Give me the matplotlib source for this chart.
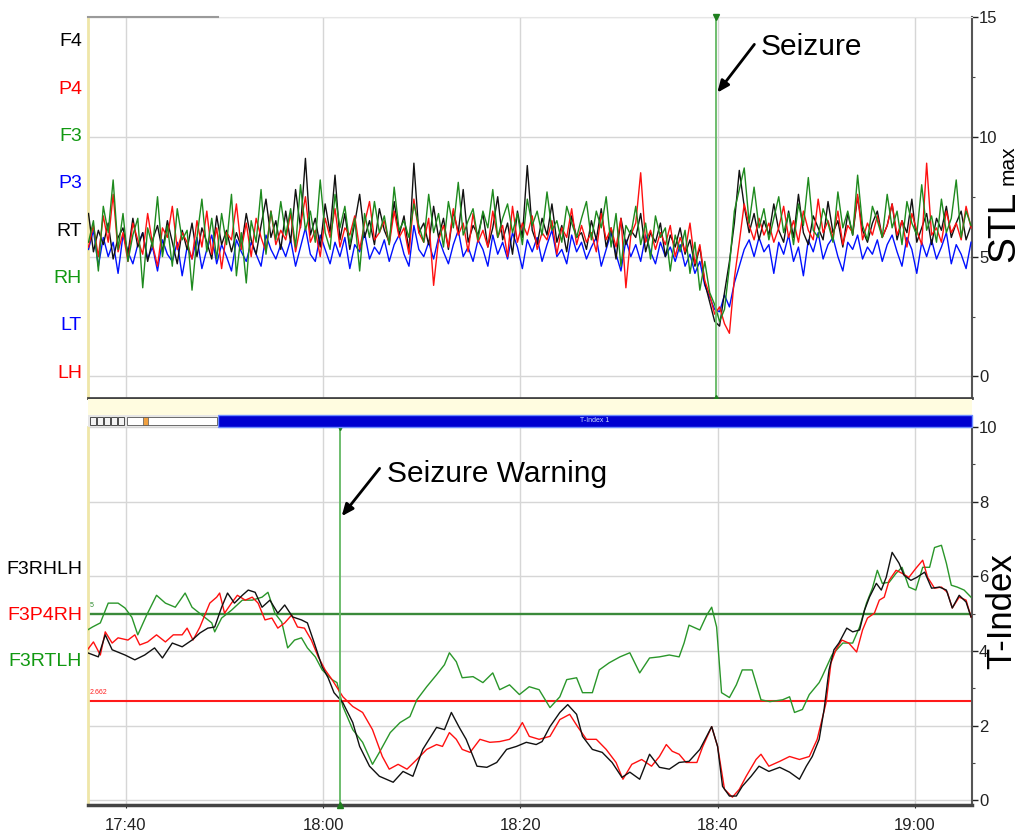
import numpy as np
import matplotlib
matplotlib.use('Agg')
import matplotlib.pyplot as plt
from matplotlib import font_manager
from matplotlib.patches import Rectangle
from matplotlib.ticker import MultipleLocator

# ---------------- DATA ----------------
# Time axis: minutes after 17:00
time_ticks = [40, 60, 80, 100, 120]
time_labels = ['17:40', '18:00', '18:20', '18:40', '19:00']
top_tick_labels = ['3d 17:40', '3d 18:00', '3d 18:20', '3d 18:40', '3d 19:00']
x_range = [36.15, 125.8]

# STLmax profiles, sampled every 0.5 min starting 17:36.2
stl_start = 36.2
stl_step = 0.5
stl_black = [6.8, 5.2, 6.1, 5.5, 6.4, 4.9, 5.8, 6.2, 5.1, 6.6, 5.4, 6.0, 4.8, 5.7, 6.3, 5.2, 6.5, 5.6, 4.7, 6.1,
             5.3, 6.4, 5.0, 6.2, 5.6, 4.9, 6.7, 5.5, 6.1, 5.2, 6.0, 5.4, 6.8, 5.7, 5.1, 6.3, 7.4, 5.8, 6.5, 5.3,
             6.9, 5.6, 7.8, 6.2, 9.1, 5.9, 6.6, 5.4, 7.2, 6.0, 8.4, 5.7, 6.8, 5.3, 6.4, 7.6, 5.8, 6.5, 5.5, 7.0,
             6.1, 5.6, 7.3, 5.9, 6.7, 5.2, 8.9, 6.0, 6.4, 5.5, 7.1, 5.8, 6.6, 5.3, 6.9, 6.0, 7.8, 5.6, 6.3, 5.9,
             6.8, 5.4, 6.2, 7.5, 5.7, 6.4, 5.1, 6.9, 5.8, 8.8, 6.1, 5.5, 6.6, 5.9, 7.2, 5.6, 6.3, 5.2, 6.7, 5.8,
             6.0, 5.3, 6.5, 5.7, 7.0, 5.4, 6.2, 4.9, 6.6, 5.5, 6.1, 5.8, 6.8, 5.2, 6.0, 5.6, 6.4, 5.0, 5.9, 5.4,
             6.2, 5.1, 5.7, 4.6, 5.4, 3.9, 3.1, 2.3, 2.1, 3.5, 4.8, 6.4, 8.6, 7.1, 6.0, 6.8, 5.7, 6.5, 5.9, 7.2,
             6.1, 5.6, 6.9, 5.8, 7.6, 6.0, 5.5, 6.7, 6.2, 5.7, 7.3, 6.0, 6.5, 5.4, 6.8, 5.9, 7.5, 6.1, 5.6, 6.4,
             6.9, 5.8, 6.3, 7.2, 5.7, 6.5, 6.0, 7.4, 5.6, 6.2, 6.8, 5.5, 6.6, 6.1, 7.1, 5.8, 6.4, 6.9, 5.7, 6.3]
stl_red = [5.4, 6.3, 5.0, 6.7, 5.6, 7.6, 5.2, 6.0, 4.8, 6.4, 5.7, 5.1, 6.8, 5.5, 4.6, 6.2, 5.8, 7.1, 5.3, 6.0,
           5.6, 4.9, 6.5, 5.4, 6.9, 5.1, 6.2, 4.5, 6.0, 5.7, 7.2, 5.3, 6.4, 5.0, 6.6, 5.8, 5.2, 6.9, 5.5, 6.1,
           5.7, 6.8, 5.2, 6.3, 7.5, 5.6, 6.1, 5.0, 6.6, 5.8, 7.0, 5.4, 6.2, 5.9, 6.7, 5.3, 6.4, 7.3, 5.7, 6.0,
           6.5, 5.5, 6.9, 5.8, 6.2, 5.1, 7.4, 6.0, 5.6, 6.6, 3.8, 5.7, 6.3, 5.4, 7.0, 5.9, 6.4, 5.2, 6.8, 5.6,
           6.1, 5.4, 6.9, 5.8, 6.3, 5.0, 7.1, 5.6, 6.4, 5.9, 6.7, 5.3, 6.0, 5.7, 6.5, 5.1, 6.2, 5.8, 7.0, 5.5,
           6.3, 5.6, 6.0, 5.2, 6.8, 5.7, 6.2, 5.4, 6.6, 3.7, 5.9, 6.4, 8.5, 5.6, 6.1, 5.3, 6.0, 5.5, 6.3, 5.0,
           5.8, 5.2, 6.4, 4.7, 5.5, 4.0, 3.4, 2.6, 2.9, 2.2, 1.8, 4.1, 5.6, 7.2, 6.3, 5.7, 6.6, 5.9, 6.4, 5.6,
           6.2, 7.1, 5.8, 6.5, 5.6, 6.9, 6.1, 5.7, 7.4, 6.0, 6.5, 5.8, 6.9, 5.5, 6.3, 6.0, 7.6, 5.7, 6.4, 5.9,
           6.7, 5.8, 6.3, 7.2, 5.9, 6.5, 5.4, 6.8, 6.1, 5.5, 8.9, 5.9, 6.2, 5.6, 6.9, 6.0, 6.4, 5.7, 7.1, 6.2]
stl_green = [5.6, 6.5, 4.4, 7.1, 6.0, 8.2, 5.3, 6.8, 4.8, 5.9, 6.6, 3.7, 6.2, 5.4, 7.5, 5.0, 6.3, 4.6, 7.0, 5.7,
             6.1, 3.6, 5.8, 7.4, 5.2, 6.6, 4.9, 6.8, 5.5, 7.6, 4.2, 6.0, 3.9, 6.5, 5.6, 7.8, 5.1, 6.9, 5.7, 7.3,
             5.9, 7.0, 5.4, 8.0, 6.1, 6.9, 5.6, 8.2, 6.0, 5.3, 7.6, 6.2, 7.1, 5.5, 6.6, 4.4, 6.8, 5.8, 7.3, 6.0,
             6.7, 5.5, 7.9, 6.1, 6.5, 5.8, 7.2, 6.3, 5.6, 7.6, 6.0, 6.8, 5.4, 7.3, 6.2, 8.1, 5.9, 6.5, 7.0, 5.7,
             6.9, 6.2, 7.8, 5.8, 6.6, 7.2, 6.0, 6.8, 5.5, 7.4, 6.3, 6.9, 5.9, 7.7, 6.1, 6.5, 5.6, 7.1, 6.4, 5.8,
             6.6, 7.3, 5.7, 6.9, 6.2, 7.5, 5.4, 6.8, 4.6, 6.3, 5.9, 7.1, 5.5, 6.4, 4.9, 6.7, 5.8, 6.2, 4.4, 5.9,
             5.2, 6.1, 4.3, 5.6, 3.6, 4.8, 3.5, 3.0, 2.3, 2.8, 4.6, 6.9, 7.8, 8.7, 6.4, 7.9, 6.2, 7.0, 5.7, 6.6,
             7.5, 6.0, 6.8, 5.5, 7.2, 6.3, 8.3, 6.1, 5.8, 7.0, 6.4, 5.6, 7.7, 6.2, 6.9, 5.9, 8.4, 6.3, 5.7, 7.1,
             6.5, 5.8, 7.6, 6.2, 6.9, 5.5, 7.3, 6.4, 5.9, 8.0, 6.1, 6.7, 5.6, 7.4, 6.0, 6.6, 8.2, 5.8, 6.9, 6.3]
stl_blue = [5.3, 6.1, 4.6, 5.8, 5.0, 5.6, 4.3, 5.9, 5.2, 4.7, 5.5, 6.0, 4.9, 5.4, 4.4, 5.7, 5.1, 4.8, 5.6, 4.2,
            5.4, 4.9, 5.8, 4.5, 5.3, 5.9, 4.7, 5.5, 5.0, 4.4, 5.7, 5.2, 4.8, 5.6, 5.1, 4.6, 5.9, 5.3, 4.9, 5.5,
            5.0, 5.7, 4.6, 5.4, 6.2, 5.1, 4.8, 5.9, 5.3, 4.7, 5.6, 5.0, 5.8, 4.5, 5.5, 5.2, 6.0, 4.9, 5.4, 5.1,
            5.7, 4.8, 5.5, 5.9, 5.1, 4.6, 6.3, 5.3, 5.0, 5.6, 4.9, 5.8, 5.2, 4.7, 5.5, 6.1, 5.0, 5.4, 4.8, 5.7,
            5.3, 4.6, 5.9, 5.1, 5.6, 4.9, 6.0, 5.4, 4.5, 5.7, 5.2, 5.8, 4.8, 5.5, 6.1, 5.0, 5.3, 4.7, 5.9, 5.2,
            5.6, 4.9, 5.4, 5.8, 4.6, 5.3, 6.0, 5.1, 4.4, 5.7, 5.0, 5.5, 4.8, 5.9, 5.2, 4.7, 5.6, 5.0, 5.4, 4.8,
            5.5, 4.6, 5.1, 4.3, 4.8, 3.8, 3.3, 2.8, 2.7, 3.4, 2.9, 3.9, 4.6, 5.3, 5.7, 5.0, 5.8, 5.2, 5.5, 4.3,
            5.6, 5.1, 5.9, 4.8, 5.4, 4.2, 5.7, 5.2, 6.0, 4.9, 5.5, 5.8, 5.0, 4.4, 5.6, 5.3, 5.9, 4.9, 5.4, 5.1,
            5.7, 4.8, 5.5, 5.9, 5.2, 4.6, 5.8, 5.3, 4.3, 5.6, 5.0, 5.7, 4.9, 5.4, 6.0, 4.7, 5.5, 5.1, 4.5, 5.6]
stl_labels = ['F4', 'P4', 'F3', 'P3', 'RT', 'RH', 'LT', 'LH']
stl_label_colors = ['black', 'red', '#119911', 'blue', 'black', '#119911', 'blue', 'red']

# T-index profiles (time in minutes after 17:00, value)
tidx_green_t = [36.1, 36.6, 37.4, 38.2, 39.2, 39.9, 40.6, 41.2, 42.1, 43.1, 44.0, 45.0, 46.0, 46.7, 47.7, 48.7,
                49.0, 49.7, 50.7, 51.8, 52.8, 53.8, 54.4, 55.1, 55.8, 56.4, 57.1, 57.8, 58.4, 59.2, 59.9, 60.9,
                61.4, 62.0, 63.0, 64.0, 65.0, 65.7, 66.8, 67.8, 68.8, 69.5, 70.5, 71.5, 72.3, 72.8, 73.5, 74.1,
                75.2, 76.2, 77.2, 77.9, 78.9, 79.9, 80.9, 81.9, 83.0, 84.0, 84.7, 85.7, 86.3, 87.3, 88.0, 89.0,
                90.1, 91.1, 92.1, 93.1, 94.1, 95.1, 96.1, 96.6, 97.1, 98.2, 98.9, 99.4, 99.9, 100.4, 101.2,
                101.9, 102.5, 103.5, 104.4, 105.3, 106.6, 107.3, 107.8, 108.6, 109.3, 110.3, 110.6, 111.6,
                112.7, 113.7, 114.4, 115.1, 115.7, 116.2, 116.7, 117.4, 118.1, 118.7, 119.4, 120.1, 120.8,
                121.5, 122.0, 122.7, 123.2, 123.7, 124.3, 125.0, 125.7]
tidx_green_v = [4.56, 4.64, 4.75, 5.28, 5.28, 5.15, 4.90, 4.43, 4.96, 5.49, 5.28, 5.17, 5.55, 5.17, 4.96, 4.75,
                4.51, 4.88, 5.09, 5.36, 5.36, 5.44, 5.57, 5.01, 4.77, 4.08, 4.29, 4.35, 4.08, 3.84, 3.49, 3.23,
                3.15, 2.51, 1.89, 1.55, 0.96, 1.28, 1.81, 2.08, 2.24, 2.69, 3.04, 3.36, 3.63, 3.95, 3.71, 3.28,
                3.31, 3.15, 3.41, 2.96, 3.09, 2.83, 3.04, 2.96, 2.48, 2.77, 3.23, 3.28, 2.88, 2.88, 3.49, 3.68,
                3.84, 3.95, 3.41, 3.81, 3.84, 3.89, 3.84, 4.21, 4.69, 4.56, 4.96, 5.17, 4.64, 2.88, 2.75,
                3.09, 3.49, 3.49, 2.69, 2.64, 2.69, 2.77, 2.35, 2.43, 2.83, 3.15, 3.31, 3.89,
                4.21, 4.21, 4.64, 5.28, 5.68, 6.16, 5.81, 5.84, 6.08, 6.24, 5.71, 5.63, 6.24,
                6.24, 6.77, 6.83, 6.35, 5.76, 5.71, 5.63, 5.44]
tidx_black_t = [36.1, 37.2, 37.9, 38.6, 39.9, 40.9, 41.9, 42.9, 43.7, 44.7, 45.7, 46.7, 47.5, 48.3, 49.0, 49.7,
                50.3, 51.0, 51.8, 52.4, 53.1, 53.8, 54.6, 55.4, 56.1, 56.9, 57.8, 58.4, 59.1, 59.9, 60.5, 61.1,
                62.0, 63.0, 63.7, 64.7, 65.7, 67.1, 68.1, 69.1, 70.1, 71.5, 72.3, 73.0, 73.8, 74.5, 75.6, 76.6,
                77.6, 78.6, 79.6, 80.6, 81.6, 82.2, 83.0, 84.0, 84.8, 85.7, 86.3, 87.3, 88.3, 89.3, 90.3, 91.1,
                92.1, 93.1, 94.1, 95.1, 96.1, 97.1, 98.2, 99.4, 100.0, 100.5, 101.2, 101.9, 102.5, 103.4, 104.2,
                105.2, 106.3, 107.3, 108.3, 109.0, 109.6, 110.3, 110.8, 111.3, 111.8, 112.3, 113.1, 113.7,
                114.4, 114.9, 115.4, 116.1, 116.6, 117.1, 117.7, 118.4, 118.9, 119.6, 120.2, 121.0, 121.7,
                122.5, 123.2, 123.8, 124.5, 125.2, 125.7]
tidx_black_v = [3.95, 3.84, 4.43, 4.03, 3.89, 3.76, 3.89, 4.08, 3.81, 4.21, 4.11, 4.29, 4.48, 4.61, 4.64, 5.17,
                5.55, 5.28, 5.49, 5.63, 5.57, 5.17, 5.36, 5.01, 5.23, 4.91, 4.83, 4.75, 4.21, 3.57, 3.28, 2.88,
                2.61, 2.08, 1.44, 0.91, 0.64, 0.48, 0.77, 0.64, 1.36, 1.95, 1.89, 2.35, 1.95, 1.63, 0.91, 0.88,
                1.01, 1.36, 1.44, 1.55, 1.49, 1.57, 1.97, 2.35, 2.56, 2.30, 1.71, 1.36, 1.28, 1.01, 0.61, 0.75,
                0.56, 1.23, 0.88, 0.83, 1.01, 1.04, 1.36, 1.97, 1.44, 0.37, 0.11, 0.11, 0.37, 0.64, 0.91,
                0.77, 0.88, 0.75, 0.56, 0.91, 1.17, 1.63, 2.43, 3.49, 4.03, 4.21, 4.61, 4.51,
                4.56, 5.09, 5.44, 5.81, 5.63, 5.97, 6.64, 6.35, 6.03, 5.89, 5.97, 6.11, 5.68,
                5.71, 5.63, 5.15, 5.49, 5.31, 4.91]
tidx_red_t = [36.1, 36.7, 37.4, 37.9, 38.6, 39.2, 40.2, 40.9, 41.4, 42.2, 43.1, 44.0, 44.8, 45.7, 46.2, 46.8,
              47.5, 48.0, 48.5, 49.2, 49.5, 50.0, 50.7, 51.3, 52.1, 52.8, 53.4, 54.1, 54.8, 55.4, 56.1, 56.8,
              57.4, 58.1, 58.8, 59.5, 60.2, 60.9, 62.0, 63.0, 64.0, 65.0, 66.0, 66.7, 67.6, 68.5, 69.5, 70.5,
              71.5, 72.1, 72.8, 73.5, 74.1, 74.9, 75.9, 76.9, 77.9, 78.9, 79.6, 80.2, 80.9, 81.9, 83.0, 84.0,
              85.0, 85.8, 86.7, 87.7, 88.7, 89.7, 90.4, 91.3, 92.3, 93.3, 94.1, 94.8, 95.4, 96.1, 96.8, 97.9,
              98.5, 99.4, 100.0, 100.7, 101.5, 102.2, 102.9, 103.9, 104.4, 105.2, 106.3, 107.3, 108.3, 109.3,
              110.1, 111.0, 111.5, 112.0, 112.6, 113.3, 114.1, 114.7, 115.2, 115.9, 116.4, 116.9, 117.4,
              118.1, 118.7, 119.4, 120.1, 120.8, 121.3, 122.0, 122.7, 123.3, 123.8, 124.5, 125.2, 125.7]
tidx_red_v = [4.03, 4.24, 3.89, 4.51, 4.21, 4.35, 4.29, 4.43, 4.16, 4.24, 4.43, 4.24, 4.43, 4.43, 4.61, 4.29,
              4.64, 4.96, 5.28, 5.44, 5.55, 5.01, 5.28, 5.49, 5.36, 5.44, 5.28, 4.83, 4.88, 4.61, 4.75, 4.96,
              4.64, 4.61, 4.29, 3.84, 3.49, 3.23, 2.77, 2.51, 2.35, 1.89, 1.17, 0.83, 0.96, 0.83, 1.09, 1.36,
              1.49, 1.44, 1.81, 1.63, 1.36, 1.28, 1.63, 1.55, 1.57, 1.63, 1.81, 2.08, 1.71, 1.63, 1.71, 2.16,
              2.30, 1.97, 1.63, 1.63, 1.36, 1.01, 0.56, 0.96, 1.09, 0.91, 1.17, 1.49, 1.31, 1.23, 1.01, 1.01,
              1.44, 1.97, 1.44, 0.29, 0.08, 0.29, 0.64, 1.09, 1.23, 0.91, 1.04, 1.17, 1.09, 1.17,
              1.63, 2.61, 3.68, 4.03, 4.29, 4.21, 3.97, 4.56, 4.88, 5.01, 5.36, 5.44, 5.89,
              6.16, 6.08, 5.97, 6.21, 6.43, 5.97, 5.68, 5.71, 5.57, 5.15, 5.44, 5.36, 4.91]
tidx_labels = ['F3RHLH', 'F3P4RH', 'F3RTLH']
tidx_label_colors = ['black', 'red', '#119911']

seizure_time = 99.8
warning_time = 61.7
threshold_green = 5
threshold_red = 2.662

# ---------------- STYLE ----------------
names = {f.name for f in font_manager.fontManager.ttflist}
FONT = 'Liberation Sans' if 'Liberation Sans' in names else 'DejaVu Sans'
plt.rcParams['font.family'] = [FONT, 'DejaVu Sans']

W, H = 1021, 835
def fx(px):
    return px / W
def fy(py):
    return 1 - py / H

C_BLACK = '#111111'
C_RED = '#FF1010'
C_GREEN = '#1E8A1E'
C_BLUE = '#0010FF'
C_GRID = '#D6D6D6'
C_VLINE = '#62B862'

fig = plt.figure(figsize=(W / 100, H / 100), dpi=100)

# ---------------- TOP PANEL (STLmax) ----------------
ax1 = fig.add_axes([fx(88), fy(398), (972 - 88) / W, (398 - 17) / H])
for series, col in [(stl_blue, C_BLUE), (stl_black, C_BLACK), (stl_red, C_RED), (stl_green, C_GREEN)]:
    t = stl_start + stl_step * np.arange(len(series))
    ax1.plot(t, series, color=col, lw=1.0, zorder=3)
ax1.set_xlim(*x_range)
ax1.set_ylim(-0.9, 15.0)
ax1.yaxis.tick_right()
ax1.set_yticks([0, 5, 10, 15])
ax1.yaxis.set_minor_locator(MultipleLocator(2.5))
ax1.tick_params(axis='y', which='major', direction='out', length=4, width=1, labelsize=12, pad=1, colors='#222222')
ax1.tick_params(axis='y', which='minor', direction='out', length=2, width=0.8, colors='#444444')
ax1.set_xticks(time_ticks)
ax1.set_xticklabels(top_tick_labels, fontsize=5)
ax1.tick_params(axis='x', direction='out', length=3, pad=3, colors='#333333')
ax1.grid(True, which='major', color=C_GRID, lw=1, zorder=0)
ax1.set_axisbelow(True)
ax1.spines['left'].set_color('#EFE6A8')
ax1.spines['left'].set_linewidth(2)
ax1.spines['right'].set_color('#555555')
ax1.spines['right'].set_linewidth(1.5)
ax1.spines['bottom'].set_color('#444444')
ax1.spines['bottom'].set_linewidth(2)
ax1.spines['top'].set_color('#E6E6E6')
ax1.axvline(seizure_time, color=C_VLINE, lw=1.3, zorder=4)
ax1.plot([seizure_time], [1.0], marker='v', color='#1E7F1E', ms=5, transform=ax1.get_xaxis_transform(), clip_on=False, zorder=5)
ax1.plot([seizure_time], [0.0], marker='^', color='#1E7F1E', ms=5, transform=ax1.get_xaxis_transform(), clip_on=False, zorder=5)
ax1.annotate('', xy=(seizure_time, 11.75), xytext=(103.9, 13.95),
             arrowprops=dict(arrowstyle='-|>,head_length=0.7,head_width=0.3', color='black', lw=2), zorder=6)
ax1.text(104.4, 13.75, 'Seizure', fontsize=21.5, va='center', ha='left', color='black', zorder=6)

# band under the top panel and the small tab line at the top
fig.patches.append(Rectangle((fx(88), fy(415)), (972 - 88) / W, (415 - 399) / H,
                             transform=fig.transFigure, facecolor='#FFFCE0', edgecolor='none', zorder=0))
fig.lines.append(plt.Line2D([fx(88), fx(218)], [fy(17), fy(17)], transform=fig.transFigure, color='#9A9A9A', lw=1.5))

# left channel labels of the top panel
for i, (lab, col) in enumerate(zip(stl_labels, stl_label_colors)):
    fig.text(fx(82), fy(42 + 47.3 * i), lab, color=col, fontsize=14, ha='right', va='center')

# y label STLmax
fig.text(fx(1014), fy(262), 'STL', rotation=90, rotation_mode='anchor', ha='left', va='baseline', fontsize=28, color='black')
fig.text(fx(1014), fy(185), 'max', rotation=90, rotation_mode='anchor', ha='left', va='baseline', fontsize=15, color='black')

# ---------------- BLUE BAR / CONTROLS ----------------
fig.patches.append(Rectangle((fx(218), fy(427)), (972 - 218) / W, 12 / H, transform=fig.transFigure,
                             facecolor='#0000D0', edgecolor='#6C8CFF', lw=1, zorder=1))
fig.text(fx(595), fy(421), 'T-Index 1', color='#C8D8FF', fontsize=5, ha='center', va='center')
fig.patches.append(Rectangle((fx(88), fy(427)), 130 / W, 12 / H, transform=fig.transFigure,
                             facecolor='#E6E6E6', edgecolor='none', zorder=1))
for k in range(5):
    fig.patches.append(Rectangle((fx(90 + 7 * k), fy(425)), 6 / W, 8 / H, transform=fig.transFigure,
                                 facecolor='#F4F4F4', edgecolor='#333333', lw=0.6, zorder=2))
fig.patches.append(Rectangle((fx(127), fy(425)), 90 / W, 8 / H, transform=fig.transFigure,
                             facecolor='white', edgecolor='#555555', lw=0.6, zorder=2))
fig.patches.append(Rectangle((fx(143), fy(425)), 5 / W, 8 / H, transform=fig.transFigure,
                             facecolor='#F0A040', edgecolor='#555555', lw=0.5, zorder=3))

# ---------------- BOTTOM PANEL (T-index) ----------------
ax2 = fig.add_axes([fx(88), fy(805), (972 - 88) / W, (805 - 427) / H])
ax2.axhline(threshold_green, color='#3A8A3A', lw=1.7, zorder=2)
ax2.axhline(threshold_red, color='#FF1A1A', lw=1.5, zorder=2)
ax2.plot(tidx_green_t, tidx_green_v, color='#2A962A', lw=1.0, zorder=3)
ax2.plot(tidx_red_t, tidx_red_v, color=C_RED, lw=1.0, zorder=3)
ax2.plot(tidx_black_t, tidx_black_v, color=C_BLACK, lw=1.0, zorder=4)
ax2.set_xlim(*x_range)
ax2.set_ylim(-0.13, 10.0)
ax2.text(x_range[0] + 0.15, threshold_green + 0.12, str(threshold_green), color='#2A8A2A', fontsize=5, va='bottom', ha='left')
ax2.text(x_range[0] + 0.15, threshold_red + 0.12, str(threshold_red), color='#FF2020', fontsize=5, va='bottom', ha='left')
ax2.yaxis.tick_right()
ax2.set_yticks([0, 2, 4, 6, 8, 10])
ax2.yaxis.set_minor_locator(MultipleLocator(1))
ax2.tick_params(axis='y', which='major', direction='out', length=4, width=1, labelsize=12, pad=1, colors='#222222')
ax2.tick_params(axis='y', which='minor', direction='out', length=2, width=0.8, colors='#444444')
ax2.set_xticks(time_ticks)
ax2.set_xticklabels(time_labels, fontsize=12)
ax2.tick_params(axis='x', direction='out', length=2, pad=7, colors='#222222')
ax2.grid(True, which='major', color=C_GRID, lw=1, zorder=0)
ax2.set_axisbelow(True)
ax2.spines['left'].set_color('#EFE6A8')
ax2.spines['left'].set_linewidth(2)
ax2.spines['right'].set_color('#555555')
ax2.spines['right'].set_linewidth(1.5)
ax2.spines['bottom'].set_color('#444444')
ax2.spines['bottom'].set_linewidth(2.5)
ax2.spines['top'].set_visible(False)
ax2.axvline(warning_time, color=C_VLINE, lw=1.3, zorder=4)
ax2.plot([warning_time], [1.0], marker='v', color='#1E7F1E', ms=5, transform=ax2.get_xaxis_transform(), clip_on=False, zorder=5)
ax2.plot([warning_time], [0.0], marker='^', color='#1E7F1E', ms=5, transform=ax2.get_xaxis_transform(), clip_on=False, zorder=5)
ax2.annotate('', xy=(warning_time, 7.55), xytext=(65.9, 8.95),
             arrowprops=dict(arrowstyle='-|>,head_length=0.7,head_width=0.3', color='black', lw=2), zorder=6)
ax2.text(66.5, 8.75, 'Seizure Warning', fontsize=21.5, va='center', ha='left', color='black', zorder=6)

for i, (lab, col) in enumerate(zip(tidx_labels, tidx_label_colors)):
    fig.text(fx(82), fy(570 + 46 * i), lab, color=col, fontsize=14, ha='right', va='center')

fig.text(fx(1011), fy(669), 'T-Index', rotation=90, rotation_mode='anchor', ha='left', va='baseline', fontsize=25, color='black')

fig.savefig('out.png', dpi=100)
